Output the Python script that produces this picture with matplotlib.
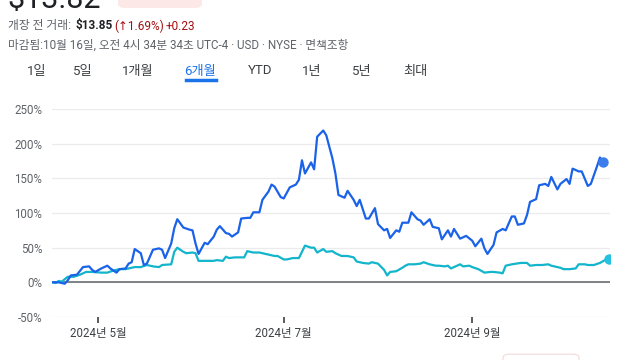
import pandas as pd
import numpy as np
import matplotlib.pyplot as plt
from matplotlib.patches import FancyBboxPatch

plt.rcParams['font.family'] = ['Roboto', 'Noto Sans CJK KR', 'DejaVu Sans']

# 시작일 기준 일수 (2024-04-16)
start = pd.Timestamp('2024-04-16')

blue_days = [0, 2, 4, 5, 6, 8, 10, 12, 13, 14, 16, 18, 19, 21, 22, 24, 25, 26, 27, 29,
             30, 31, 33, 35, 36, 37, 39, 40, 41, 43, 45, 46, 47, 48, 50, 51, 53, 54, 55, 57,
             58, 59, 61, 62, 64, 65, 66, 68, 69, 71, 72, 73, 75, 76, 78, 80, 81, 82, 83, 85,
             86, 87, 89, 90, 92, 93, 94, 96, 97, 99, 100, 101, 103, 104, 106, 107, 109, 110, 111, 113,
             114, 115, 117, 118, 120, 121, 122, 124, 125, 127, 128, 130, 131, 132, 134, 135, 136, 138, 139, 141,
             142, 143, 145, 146, 148, 149, 151, 152, 153, 155, 156, 157, 159, 160, 162, 163, 164, 166, 167, 169,
             170, 171, 173, 174, 176, 177, 179, 180, 181]
blue_vals = [0, 0, -2, 3, 10, 11, 22, 23, 18, 15, 20, 24, 20, 14, 19, 20, 27, 29, 48, 42,
             25, 27, 47, 49, 47, 35, 56, 78, 91, 79, 76, 75, 56, 41, 57, 55, 66, 76, 81, 71,
             70, 66, 72, 92, 93, 93, 101, 101, 119, 131, 141, 138, 123, 121, 137, 141, 148, 176, 157, 173,
             163, 210, 219, 212, 179, 157, 126, 122, 132, 119, 110, 119, 92, 92, 107, 84, 75, 77, 64, 75,
             73, 86, 86, 101, 91, 89, 83, 91, 80, 78, 62, 75, 66, 77, 63, 65, 67, 60, 52, 63,
             49, 41, 54, 72, 77, 75, 95, 95, 83, 85, 97, 116, 120, 140, 142, 139, 152, 134, 142, 149,
             142, 164, 160, 160, 139, 142, 167, 180, 174]

cyan_days = [0, 1, 2, 3, 5, 7, 9, 11, 13, 16, 18, 20, 22, 24, 27, 29, 31, 33, 35, 36,
             39, 40, 41, 43, 44, 46, 47, 48, 51, 53, 54, 56, 57, 58, 60, 63, 64, 66, 68, 69,
             71, 73, 74, 76, 77, 79, 81, 83, 85, 86, 87, 89, 90, 92, 93, 95, 97, 99, 100, 102,
             104, 105, 107, 109, 110, 111, 113, 115, 116, 117, 119, 121, 122, 124, 126, 127, 129, 130, 131, 133,
             134, 135, 137, 138, 140, 142, 144, 145, 147, 148, 149, 151, 154, 156, 157, 159, 161, 163, 164, 167,
             168, 170, 172, 173, 175, 176, 178, 180, 182, 183]
cyan_vals = [0, -1, 2, 1, 8, 8, 11, 15, 15, 14, 14, 17, 19, 19, 22, 22, 25, 23, 22, 25,
             26, 44, 50, 44, 42, 43, 42, 31, 31, 31, 32, 31, 37, 35, 36, 36, 45, 43, 43, 42,
             40, 38, 38, 33, 33, 35, 35, 53, 50, 50, 43, 48, 44, 45, 42, 38, 38, 36, 30, 28,
             27, 29, 27, 18, 10, 15, 16, 21, 24, 26, 26, 27, 29, 26, 24, 24, 23, 24, 20, 24,
             26, 23, 24, 22, 19, 14, 15, 15, 14, 13, 24, 26, 28, 28, 24, 25, 25, 26, 24, 21,
             19, 19, 20, 26, 26, 25, 25, 28, 33, 34]

tick_dates = ['2024-05-01', '2024-07-01', '2024-09-01']
tick_labels = ['2024년 5월', '2024년 7월', '2024년 9월']
y_ticks = [-50, 0, 50, 100, 150, 200, 250]

tabs = ['1일', '5일', '1개월', '6개월', 'YTD', '1년', '5년', '최대']
tab_x = [37, 83, 138, 200, 260, 312, 362, 415]

blue_dates = start + pd.to_timedelta(blue_days, unit='D')
cyan_dates = start + pd.to_timedelta(cyan_days, unit='D')

W, H = 640, 360
fig = plt.figure(figsize=(6.4, 3.6), dpi=100)

def fx(px):
    return px / W

def fy(py):
    return 1 - py / H

ax = fig.add_axes([fx(52), fy(317), fx(610) - fx(52), fy(109) - fy(317)])

ax.plot(cyan_dates, cyan_vals, color='#12b5cb', lw=1.6, solid_joinstyle='round', zorder=3)
ax.plot(blue_dates, blue_vals, color='#1a62e8', lw=1.6, solid_joinstyle='round', zorder=4)
ax.scatter(blue_dates[-1:], blue_vals[-1:], s=42, color='#3b7ded', zorder=5)
ax.scatter(cyan_dates[-1:], cyan_vals[-1:], s=42, color='#24c1e0', zorder=5)

ax.axhline(0, color='#6b6f73', lw=1.2, zorder=2)
ax.set_ylim(-50, 250)
ax.set_xlim(start - pd.Timedelta(days=0.2), start + pd.Timedelta(days=183.3))
ax.set_yticks(y_ticks)
ax.set_yticklabels([f'{v}%' for v in y_ticks])
ax.set_xticks(pd.to_datetime(tick_dates))
ax.set_xticklabels(tick_labels)
ax.grid(axis='y', color='#ebebeb', lw=0.9)
ax.set_axisbelow(True)
for s in ax.spines.values():
    s.set_visible(False)
ax.tick_params(axis='y', length=0, pad=7, labelsize=8.3, labelcolor='#5f6368')
ax.tick_params(axis='x', length=4, width=1.2, color='#3c4043', pad=3, labelsize=8.3,
               labelcolor='#3c4043', direction='out')

# 상단 헤더
fig.text(fx(7), fy(8), '$13.82', fontsize=22, color='#202124', va='baseline', ha='left')
pill = FancyBboxPatch((fx(118), fy(8)), fx(84), 0.06, boxstyle='round,pad=0,rounding_size=0.012',
                      transform=fig.transFigure, facecolor='#fce8e6', edgecolor='none')
fig.patches.append(pill)

fig.text(fx(8), fy(26), '개장 전 거래:', fontsize=8.5, color='#5f6368', va='center', ha='left')
fig.text(fx(76), fy(26), '$13.85', fontsize=8.5, color='#202124', fontweight='bold', va='center', ha='left')
fig.text(fx(114), fy(26), '(↑1.69%)', fontsize=8.5, color='#a50e0e', va='center', ha='left',
         family=['Roboto', 'DejaVu Sans'])
fig.text(fx(166), fy(26), '+0.23', fontsize=8.5, color='#a50e0e', va='center', ha='left')

fig.text(fx(8), fy(45), '마감됨:10월 16일, 오전 4시 34분 34초 UTC-4 · USD · NYSE · 면책조항',
         fontsize=8.4, color='#5f6368', va='center', ha='left')

for t, x in zip(tabs, tab_x):
    c = '#1a73e8' if t == '6개월' else '#3c4043'
    fig.text(fx(x), fy(71), t, fontsize=9.5, color=c, va='center', ha='center')
fig.add_artist(plt.Line2D([fx(186), fx(216)], [fy(80), fy(80)], color='#1a73e8', lw=2.5))

box = FancyBboxPatch((fx(503), fy(365)), fx(76), 0.03, boxstyle='round,pad=0,rounding_size=0.01',
                     transform=fig.transFigure, facecolor='white', edgecolor='#f3dada', lw=0.8)
fig.patches.append(box)

fig.savefig('out.png', dpi=100)
